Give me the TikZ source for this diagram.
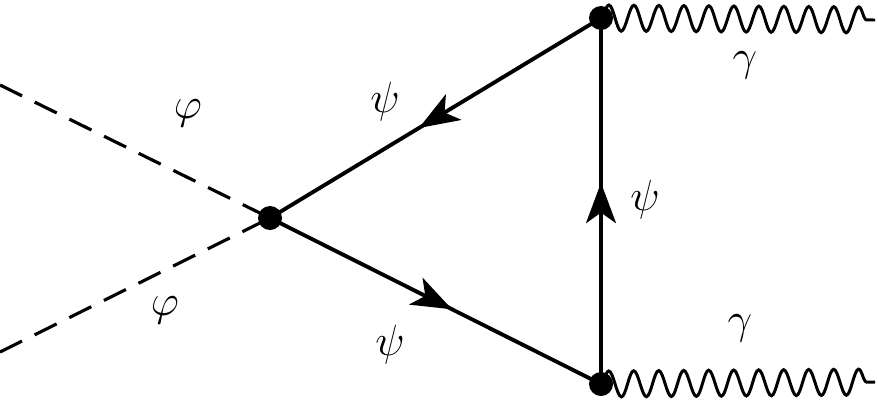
\documentclass[tikz,border=0pt]{standalone}
\usetikzlibrary{decorations.markings,decorations.pathmorphing,arrows.meta}
\begin{document}
\begin{tikzpicture}[x=0.02cm,y=-0.02cm,
  fermion/.style={line width=2.2pt,postaction={decorate},decoration={markings,mark=at position 0.55 with {\arrow{Stealth[length=23pt,width=17pt,inset=6pt]}}}},
  scalar/.style={line width=1.8pt,dash pattern=on 14pt off 8pt},
  photon/.style={line width=1.7pt,decorate,decoration={snake,amplitude=0.26cm,segment length=0.5cm}},
  vtx/.style={circle,fill=black,inner sep=0pt,minimum size=0.48cm},
  lab/.style={font=\fontsize{35}{40}\selectfont}]
\useasboundingbox (0,0) rectangle (878,407);
\node[vtx] (c) at (270,218) {};
\node[vtx] (t) at (601,18) {};
\node[vtx] (b) at (601,384) {};
\coordinate (l1) at (0,85);
\coordinate (l2) at (0,352);
\coordinate (r1) at (875,20);
\coordinate (r2) at (875,382);
\draw[scalar] (l1) -- (c.center);
\draw[scalar] (l2) -- (c.center);
\draw[fermion] (t.center) -- (c.center);
\draw[fermion] (c.center) -- (b.center);
\draw[fermion] (b.center) -- (t.center);
\draw[photon] (t.center) -- (r1);
\draw[photon] (b.center) -- (r2);
\node[lab] (p1) at (188,113) {$\varphi$};
\node[lab] (p2) at (165,310) {$\varphi$};
\node[lab] (s1) at (385,102) {$\psi$};
\node[lab] (s2) at (390,345) {$\psi$};
\node[lab] (s3) at (645,200) {$\psi$};
\node[lab] (g1) at (745,65) {$\gamma$};
\node[lab] (g2) at (740,328) {$\gamma$};
\end{tikzpicture}
\end{document}
